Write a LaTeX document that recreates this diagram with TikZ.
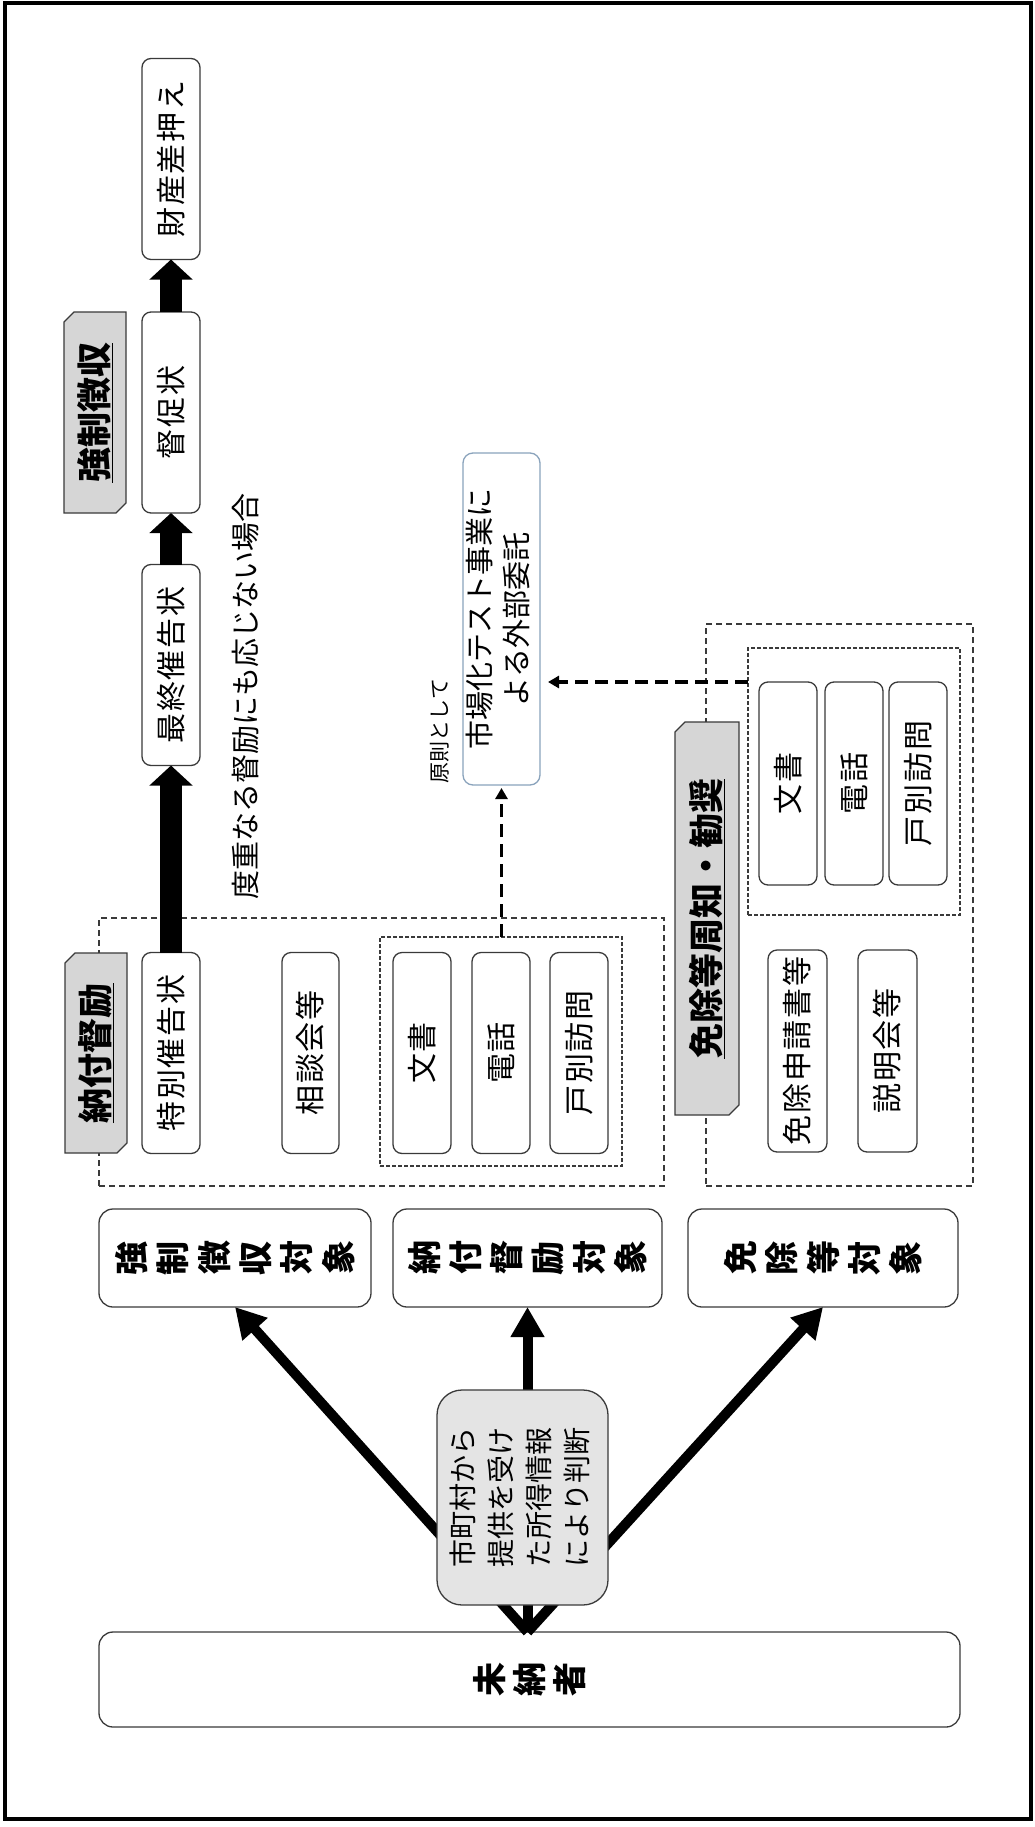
\documentclass[tikz,border=0pt]{standalone}
\usepackage{fontspec}
\usepackage{graphicx}
\newfontfamily\cjk{Noto Sans CJK JP}[Kerning=Off]
\usetikzlibrary{arrows.meta}
\definecolor{edge}{HTML}{3A3A3A}
\definecolor{tabfill}{HTML}{D6D6D6}
\definecolor{grayfill}{HTML}{E4E4E4}
\definecolor{blueedge}{HTML}{8AA3BC}
\newcommand\rt[1]{\rotatebox[origin=c]{90}{#1}}
\newcommand\tg{\hspace{9pt}}
\begin{document}
\begin{tikzpicture}[x=1pt,y=-1pt,
  every node/.style={inner sep=0pt, outer sep=0pt},
  stepbox/.style={draw=edge, line width=1.3pt, rounded corners=9pt, fill=white, minimum width=58pt, minimum height=201pt, font=\cjk\fontsize{30}{30}\selectfont\addfontfeature{LetterSpace=6}},
  targetbox/.style={draw=edge, line width=1.3pt, rounded corners=14pt, fill=white, minimum height=98pt, font=\cjk\bfseries\fontsize{34}{34}\selectfont},
  tabtext/.style={font=\cjk\bfseries\fontsize{35}{35}\selectfont},
  tabshape/.style={draw=edge, line width=1.2pt, fill=tabfill},
  groupbox/.style={draw=edge, line width=1.1pt, dash pattern=on 6pt off 4pt},
  innerbox/.style={draw=edge, line width=1.5pt, dash pattern=on 4pt off 2pt},
  bigarrow/.style={line width=22pt, -{Triangle[length=20pt,width=42pt]}},
  fanarrow/.style={line width=10pt, -{Triangle[length=30pt,width=32pt]}},
  dasharrow/.style={line width=3.5pt, dash pattern=on 13pt off 7pt, -{Triangle[length=11pt,width=12pt]}},
  note/.style={font=\cjk\fontsize{29}{29}\selectfont},
]
\useasboundingbox (0,0) rectangle (1035,1827);
\fill[white] (0,0) rectangle (1035,1827);
\draw[line width=3.5pt] (5,3) rectangle (1031,1819);

% group areas
\node[groupbox, minimum width=565pt, minimum height=268pt] (area1) at (381.5,1052) {};
\node[groupbox, minimum width=267pt, minimum height=562pt] (area2) at (839.5,905) {};
\node[innerbox, minimum width=242pt, minimum height=229pt] (grp1) at (501,1051.5) {};
\node[innerbox, minimum width=212pt, minimum height=267pt] (grp2) at (854,781.5) {};

% step boxes
\node[stepbox] (zaisan) at (171,159) {\rt{財産差押え}};
\node[stepbox] (tokusoku) at (171,412.5) {\rt{督促状}};
\node[stepbox] (saishu) at (171,665) {\rt{最終催告状}};
\node[stepbox] (tokubetsu) at (171,1053) {\rt{特別催告状}};
\node[stepbox, minimum width=57pt] (soudan) at (310.5,1053) {\rt{相談会等}};
\node[stepbox] (bunshoA) at (422,1053) {\rt{文書}};
\node[stepbox] (denwaA) at (501,1053) {\rt{電話}};
\node[stepbox] (kobetsuA) at (579,1053) {\rt{戸別訪問}};
\node[stepbox, minimum height=203pt] (bunshoB) at (788,783.5) {\rt{文書}};
\node[stepbox, minimum height=203pt] (denwaB) at (854,783.5) {\rt{電話}};
\node[stepbox, minimum height=203pt] (kobetsuB) at (918,783.5) {\rt{戸別訪問}};
\node[stepbox, minimum width=59pt, minimum height=202pt] (shinsei) at (797.5,1051) {\rt{免除申請書等}};
\node[stepbox, minimum width=59pt, minimum height=202pt] (setsumei) at (887.5,1051) {\rt{説明会等}};

% tabs
\draw[tabshape] (64,322) -- (74,312) -- (126,312) -- (126,503) -- (116,513) -- (64,513) -- cycle;
\node[tabtext] (tabA) at (95,412.5) {\rt{\underline{強制徴収}}};
\draw[tabshape] (65,963) -- (75,953) -- (127,953) -- (127,1143) -- (117,1153) -- (65,1153) -- cycle;
\node[tabtext] (tabB) at (96,1053) {\rt{\underline{納付督励}}};
\draw[tabshape] (675,732) -- (685,722) -- (739,722) -- (739,1105) -- (729,1115) -- (675,1115) -- cycle;
\node[tabtext] (tabC) at (707,918.5) {\rt{\underline{免除等周知・勧奨}}};

% chain arrows
\draw[bigarrow] (tokubetsu.north) -- (saishu.south);
\draw[bigarrow] (saishu.north) -- (tokusoku.south);
\draw[bigarrow] (tokusoku.north) -- (zaisan.south);

% notes
\node[note] (noteA) at (246,696) {\rt{度重なる督励にも応じない場合}};
\node[font=\cjk\fontsize{21}{21}\selectfont] (noteB) at (440,731) {\rt{原則として}};

% outsourcing
\node[draw=blueedge, line width=1.3pt, rounded corners=10pt, fill=white, minimum width=77pt, minimum height=332pt, font=\cjk\fontsize{29}{37}\selectfont] (ichiba) at (501.5,619) {\rt{\begin{tabular}{@{}c@{}}市場化テスト事業に\\よる外部委託\end{tabular}}};
\draw[dasharrow, shorten >=3pt] (ichiba.south |- grp1.north) -- (ichiba.south);
\draw[dasharrow, shorten >=8pt] (grp2.west |- bunshoB.north) -- (ichiba.east |- bunshoB.north);

% targets
\node[targetbox, minimum width=272pt] (kyoseiT) at (235,1258) {\rt{強}\tg\rt{制}\tg\rt{徴}\tg\rt{収}\tg\rt{対}\tg\rt{象}};
\node[targetbox, minimum width=269pt] (noufuT) at (527.5,1258) {\rt{納}\tg\rt{付}\tg\rt{督}\tg\rt{励}\tg\rt{対}\tg\rt{象}};
\node[targetbox, minimum width=270pt] (menjoT) at (823,1258) {\rt{免}\tg\rt{除}\tg\rt{等}\tg\rt{対}\tg\rt{象}};
\node[targetbox, minimum width=861pt, minimum height=95pt] (minou) at (529.5,1679.5) {\rt{未}\hspace{8pt}\rt{納}\hspace{8pt}\rt{者}};

% fan arrows
\coordinate (src) at (noufuT.south |- minou.north);
\draw[fanarrow] (src) -- (kyoseiT.south);
\draw[fanarrow] (src) -- (noufuT.south);
\draw[fanarrow] (src) -- (menjoT.south);

\node[draw=edge, line width=1.3pt, rounded corners=25pt, fill=grayfill, minimum width=171pt, minimum height=215pt, font=\cjk\fontsize{28}{38}\selectfont] (hantei) at (522.5,1497.5) {\rt{\begin{tabular}{@{}l@{}}市町村から\\提供を受け\\た所得情報\\により判断\end{tabular}}};
\end{tikzpicture}
\end{document}
